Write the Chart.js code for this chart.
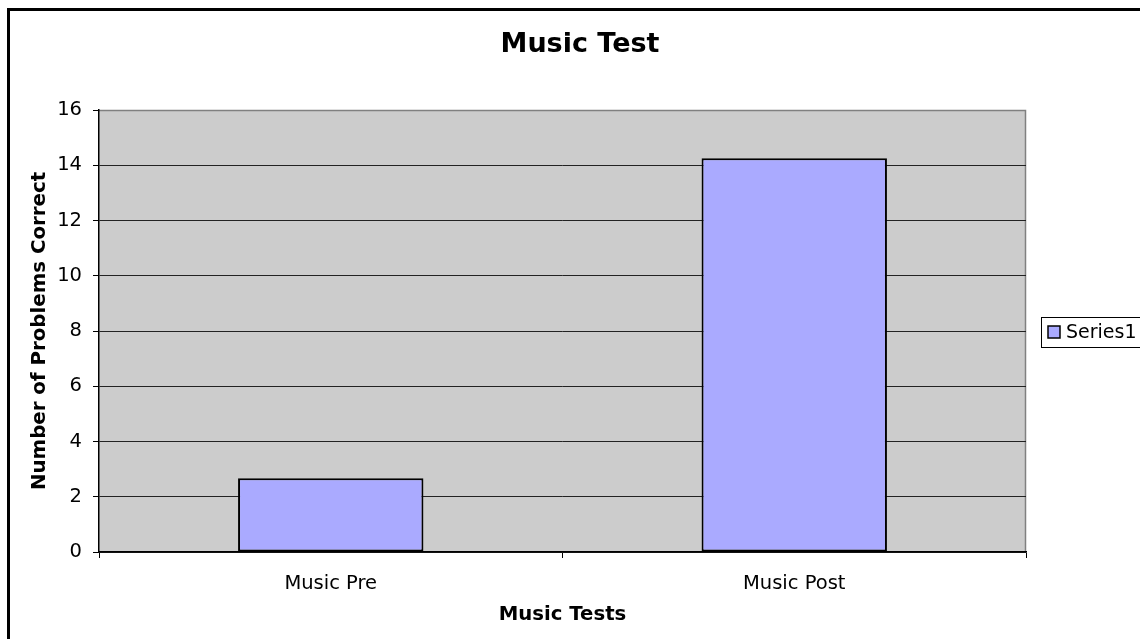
<!DOCTYPE html>
<html>
<head>
<meta charset="utf-8">
<script src="https://cdn.jsdelivr.net/npm/chart.js@4/dist/chart.umd.min.js"></script>
<style>
  html, body { margin: 0; padding: 0; background: #fff; overflow: hidden; }
  #wrap { position: absolute; left: 0; top: 0; width: 1140px; height: 639px; }
</style>
</head>
<body>
<div id="wrap"><canvas id="c" width="1140" height="639"></canvas></div>
<script>
const categories = ['Music Pre', 'Music Post'];
const seriesName = 'Series1';
const seriesValues = [2.67, 14.25];
const yTicks = [0, 2, 4, 6, 8, 10, 12, 14, 16];
const chartTitle = 'Music Test';
const xTitle = 'Music Tests';
const yTitle = 'Number of Problems Correct';

const FONT = '"DejaVu Sans", Verdana, sans-serif';
const BAR_COLOR = '#AAAAFF';
const PLOT_BG = '#CCCCCC';

const decor = {
  id: 'decor',
  beforeDraw(chart) {
    const ctx = chart.ctx;
    const a = chart.chartArea;
    ctx.save();
    ctx.fillStyle = '#fff';
    ctx.fillRect(0, 0, chart.width, chart.height);
    ctx.fillStyle = PLOT_BG;
    ctx.fillRect(a.left, a.top, a.right - a.left, a.bottom - a.top);
    // plot area border (top & right grey)
    ctx.strokeStyle = '#808080';
    ctx.lineWidth = 1.5;
    ctx.beginPath();
    ctx.moveTo(a.left, a.top + 0.5);
    ctx.lineTo(a.right - 0.5, a.top + 0.5);
    ctx.lineTo(a.right - 0.5, a.bottom);
    ctx.stroke();
    ctx.restore();
  },
  afterDraw(chart) {
    const ctx = chart.ctx;
    ctx.save();
    // outer frame
    ctx.strokeStyle = '#000';
    ctx.lineWidth = 3;
    ctx.strokeRect(8.5, 9.5, 1200, 700);
    // chart title
    ctx.fillStyle = '#000';
    ctx.font = 'bold 27px ' + FONT;
    ctx.textAlign = 'center';
    ctx.textBaseline = 'middle';
    ctx.fillText(chartTitle, 580, 45);
    // legend
    const lx = 1041, ly = 317, lw = 120, lh = 30;
    ctx.lineWidth = 1;
    ctx.strokeStyle = '#000';
    ctx.fillStyle = '#fff';
    ctx.fillRect(lx, ly, lw, lh);
    ctx.strokeRect(lx + 0.5, ly + 0.5, lw, lh);
    ctx.fillStyle = BAR_COLOR;
    ctx.fillRect(lx + 7, ly + 9, 12, 12);
    ctx.lineWidth = 1.5;
    ctx.strokeRect(lx + 7, ly + 9, 12, 12);
    ctx.fillStyle = '#000';
    ctx.font = '19px ' + FONT;
    ctx.textBaseline = 'middle';
    ctx.textAlign = 'left';
    ctx.fillText(chart.data.datasets[0].label, lx + 25, ly + lh / 2 + 1);
    ctx.restore();
  }
};

new Chart(document.getElementById('c'), {
  type: 'bar',
  data: {
    labels: categories,
    datasets: [{
      label: seriesName,
      data: seriesValues,
      backgroundColor: BAR_COLOR,
      borderColor: '#000',
      borderWidth: 2,
      borderSkipped: false,
      barPercentage: 0.4,
      categoryPercentage: 1.0
    }]
  },
  options: {
    responsive: false,
    animation: false,
    devicePixelRatio: 1,
    layout: { padding: { left: 0, right: 114, top: 110, bottom: 0 } },
    plugins: {
      legend: { display: false },
      tooltip: { enabled: false },
      title: { display: false }
    },
    scales: {
      x: {
        offset: true,
        grid: {
          offset: true,
          drawOnChartArea: false,
          drawTicks: true,
          tickLength: 6,
          tickColor: '#000'
        },
        border: { display: true, color: '#000', width: 1.5 },
        ticks: {
          color: '#000',
          font: { family: FONT, size: 19.5 },
          padding: 14,
          maxRotation: 0
        },
        title: {
          display: true,
          text: xTitle,
          color: '#000',
          font: { family: FONT, size: 19.7, weight: 'bold' },
          padding: { top: 0, bottom: 12 }
        },
        afterFit(scale) { scale.height = 87; }
      },
      y: {
        min: 0,
        max: 16,
        afterBuildTicks(scale) { scale.ticks = yTicks.map(v => ({ value: v })); },
        grid: {
          color: ctx => (ctx.tick && ctx.tick.value === 16) ? 'rgba(0,0,0,0)' : '#222',
          lineWidth: 1,
          tickLength: 6,
          tickColor: '#000'
        },
        border: { display: true, color: '#000', width: 1.5 },
        ticks: {
          color: '#000',
          font: { family: FONT, size: 19.5 },
          padding: 11
        },
        title: {
          display: true,
          text: yTitle,
          color: '#000',
          font: { family: FONT, size: 19.8, weight: 'bold' },
          padding: { top: 28, bottom: 0 }
        },
        afterFit(scale) { scale.width = 99; }
      }
    }
  },
  plugins: [decor]
});
</script>
</body>
</html>
